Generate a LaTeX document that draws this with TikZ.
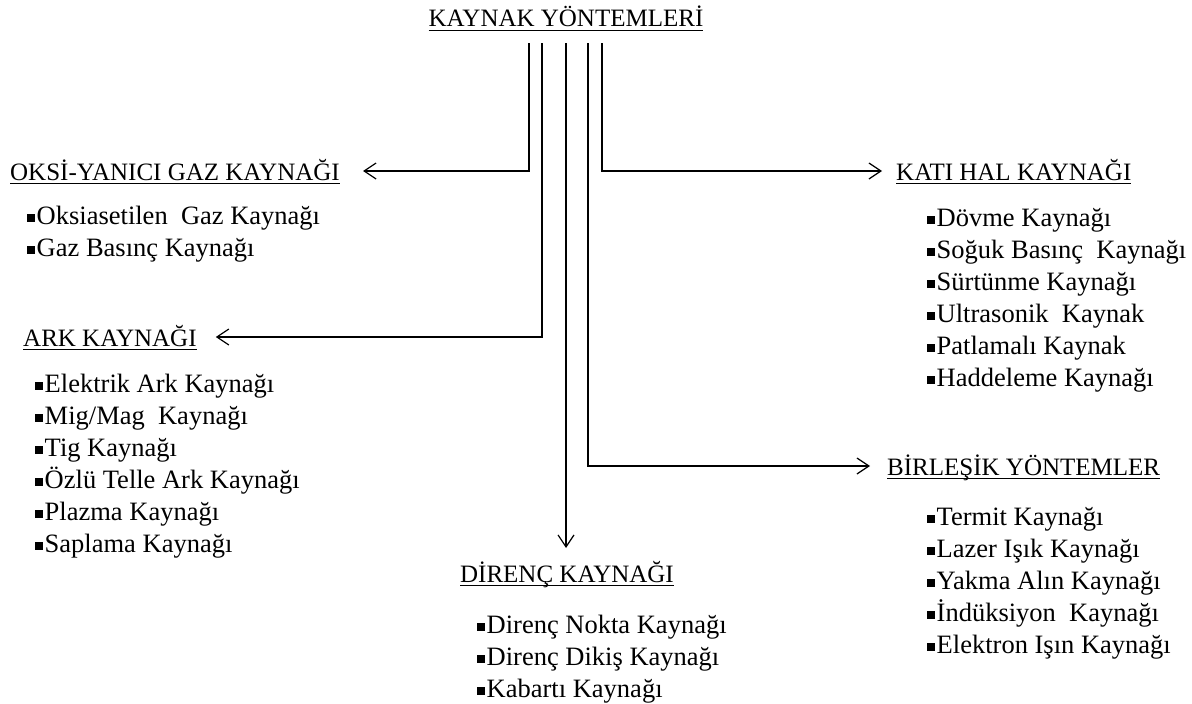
\documentclass[tikz,border=0pt]{standalone}
\usepackage{fontspec}
\setmainfont{Liberation Serif}
\usetikzlibrary{arrows.meta}
\newsavebox{\headBox}
\newcommand{\ulHead}[1]{\sbox{\headBox}{#1}\rlap{\rule[-4pt]{\wd\headBox}{1.3pt}}\usebox{\headBox}}
\newcommand{\sqBullet}{\rule[0.1em]{0.3em}{0.3em}\hspace{0.06em}}

\begin{document}
\begin{tikzpicture}[x=1pt, y=-1pt,
  >={Straight Barb[length=12pt,width=16pt]},
  conn/.style={->, line width=1.2pt},
  head/.style={inner sep=0pt, text height=20pt, text depth=2pt, font=\fontsize{25}{30}\selectfont},
  itemList/.style={anchor=north west, inner sep=0pt, align=left, font=\fontsize{26.5}{32}\selectfont}]
  \useasboundingbox[fill=white] (0,0) rectangle (1192,704);

  \node[head, anchor=base] (TITLE) at (566,27) {\ulHead{KAYNAK YÖNTEMLERİ}};

  \node[head, anchor=east] (OKSI) at (340,171) {\ulHead{OKSİ-YANICI GAZ KAYNAĞI}};
  \node[head, anchor=west] (ARK) at (23,337) {\ulHead{ARK KAYNAĞI}};
  \node[head, anchor=north] (DIRENC) at (567,562) {\ulHead{DİRENÇ KAYNAĞI}};
  \node[head, anchor=west] (KATI) at (896,171) {\ulHead{KATI HAL KAYNAĞI}};
  \node[head, anchor=west] (BIRLESIK) at (887,466) {\ulHead{BİRLEŞİK YÖNTEMLER}};

  \node[itemList] (OKSIlist) at (27,206) {\sqBullet Oksiasetilen~ Gaz Kaynağı\\
    \sqBullet Gaz Basınç Kaynağı};
  \node[itemList] (ARKlist) at (35,374) {\sqBullet Elektrik Ark Kaynağı\\
    \sqBullet Mig/Mag~ Kaynağı\\
    \sqBullet Tig Kaynağı\\
    \sqBullet Özlü Telle Ark Kaynağı\\
    \sqBullet Plazma Kaynağı\\
    \sqBullet Saplama Kaynağı};
  \node[itemList] (DIRENClist) at (477,615) {\sqBullet Direnç Nokta Kaynağı\\
    \sqBullet Direnç Dikiş Kaynağı\\
    \sqBullet Kabartı Kaynağı};
  \node[itemList] (KATIlist) at (927,208) {\sqBullet Dövme Kaynağı\\
    \sqBullet Soğuk Basınç~ Kaynağı\\
    \sqBullet Sürtünme Kaynağı\\
    \sqBullet Ultrasonik~ Kaynak\\
    \sqBullet Patlamalı Kaynak\\
    \sqBullet Haddeleme Kaynağı};
  \node[itemList] (BIRLESIKlist) at (927,507) {\sqBullet Termit Kaynağı\\
    \sqBullet Lazer Işık Kaynağı\\
    \sqBullet Yakma Alın Kaynağı\\
    \sqBullet İndüksiyon~ Kaynağı\\
    \sqBullet Elektron Işın Kaynağı};

  % stubs under the title
  \coordinate (S1) at (529,43);
  \coordinate (S2) at (542,43);
  \coordinate (S3) at (566,43);
  \coordinate (S4) at (588,43);
  \coordinate (S5) at (602,43);

  \draw[conn, shorten >=23pt] (S1) |- (OKSI.east);
  \draw[conn, shorten >=19pt] (S2) |- (ARK.east);
  \draw[conn, shorten >=14pt] (S3) -- (S3 |- DIRENC.north);
  \draw[conn, shorten >=17pt] (S4) |- (BIRLESIK.west);
  \draw[conn, shorten >=14pt] (S5) |- (KATI.west);
\end{tikzpicture}
\end{document}
